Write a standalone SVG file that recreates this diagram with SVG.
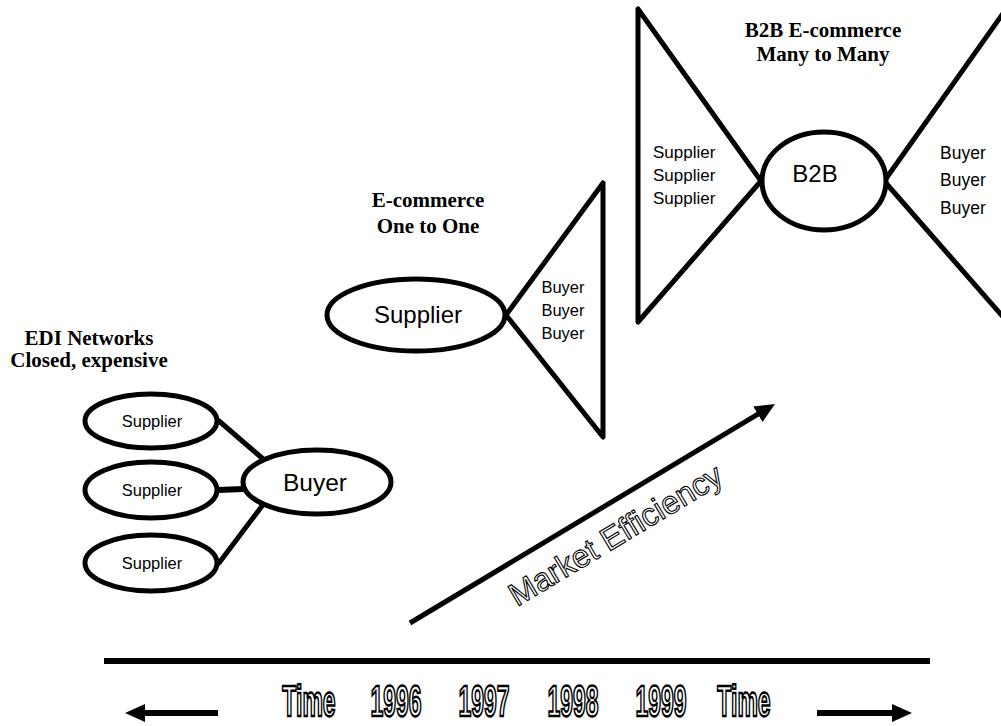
<svg xmlns="http://www.w3.org/2000/svg" width="1001" height="726" viewBox="0 0 1001 726">
  <defs>
    <style>
      .shape { fill: #fff; stroke: #000; stroke-width: 5; }
      .edge { fill: none; stroke: #000; stroke-width: 5; stroke-linecap: round; stroke-linejoin: round; }
      .label { font-family: "Liberation Sans", Arial, sans-serif; fill: #000; }
      .title { font-family: "Liberation Serif", "Times New Roman", serif; font-weight: bold; font-size: 21px; fill: #000; text-anchor: middle; }
      .hollow { font-family: "Liberation Sans", Arial, sans-serif; fill: #fff; stroke: #000; text-rendering: geometricPrecision; }
      .year text { font-weight: bold; font-size: 23px; text-anchor: middle; stroke-width: 1.3; vector-effect: non-scaling-stroke; }
    </style>
    <marker id="head" viewBox="0 0 20 18" refX="4" refY="9" markerWidth="20" markerHeight="18" markerUnits="userSpaceOnUse" orient="auto">
      <path d="M0,0 L20,9 L0,18 z" fill="#000"/>
    </marker>
  </defs>
  <rect width="1001" height="726" fill="#fff"/>

  <!-- connectors -->
  <g id="connectors" class="edge">
    <!-- EDI: suppliers to buyer -->
    <line x1="219" y1="421" x2="262" y2="458"/>
    <line x1="218" y1="490" x2="243" y2="489" stroke-width="6"/>
    <line x1="219" y1="563" x2="262" y2="506"/>
    <!-- E-commerce fan -->
    <polyline points="603,183 506,315 603,437 603,183"/>
    <!-- B2B left fan -->
    <polyline points="638,9 761,181 638,322 638,9"/>
    <!-- B2B right fan -->
    <line x1="885" y1="180" x2="1004" y2="12"/>
    <line x1="885" y1="182" x2="1004" y2="318"/>
    <!-- market efficiency arrow -->
    <line x1="410" y1="623" x2="761.3" y2="412.2" stroke-width="5" stroke-linecap="butt" marker-end="url(#head)"/>
    <!-- timeline -->
    <line x1="104" y1="661" x2="930" y2="661" stroke-width="6" stroke-linecap="butt"/>
    <line x1="218" y1="713" x2="141" y2="713" stroke-width="6" stroke-linecap="butt" marker-end="url(#head)"/>
    <line x1="817" y1="713" x2="896" y2="713" stroke-width="6" stroke-linecap="butt" marker-end="url(#head)"/>
  </g>

  <!-- EDI networks -->
  <g id="edi-title">
    <text class="title" x="89" y="345">EDI Networks</text>
    <text class="title" x="89" y="367">Closed, expensive</text>
  </g>
  <g id="edi-supplier-1">
    <ellipse class="shape" cx="151" cy="421" rx="66" ry="27"/>
    <text class="label" x="152" y="427" font-size="16.5" text-anchor="middle">Supplier</text>
  </g>
  <g id="edi-supplier-2">
    <ellipse class="shape" cx="151" cy="490" rx="66" ry="28"/>
    <text class="label" x="152" y="496" font-size="16.5" text-anchor="middle">Supplier</text>
  </g>
  <g id="edi-supplier-3">
    <ellipse class="shape" cx="151" cy="563" rx="66" ry="28"/>
    <text class="label" x="152" y="569" font-size="16.5" text-anchor="middle">Supplier</text>
  </g>
  <g id="edi-buyer">
    <ellipse class="shape" cx="317" cy="482" rx="74" ry="32"/>
    <text class="label" x="315" y="491" font-size="24.5" text-anchor="middle">Buyer</text>
  </g>

  <!-- E-commerce one to one -->
  <g id="ecom-title">
    <text class="title" x="428" y="207">E-commerce</text>
    <text class="title" x="428" y="233">One to One</text>
  </g>
  <g id="ecom-supplier">
    <ellipse class="shape" cx="416" cy="315" rx="89" ry="36"/>
    <text class="label" x="418" y="323" font-size="24" text-anchor="middle">Supplier</text>
  </g>
  <g id="ecom-buyers" class="label" font-size="16.5" text-anchor="middle">
    <text x="563" y="293">Buyer</text>
    <text x="563" y="316">Buyer</text>
    <text x="563" y="339">Buyer</text>
  </g>

  <!-- B2B many to many -->
  <g id="b2b-title">
    <text class="title" x="823" y="37">B2B E-commerce</text>
    <text class="title" x="823" y="61">Many to Many</text>
  </g>
  <g id="b2b-suppliers" class="label" font-size="17">
    <text x="653" y="158">Supplier</text>
    <text x="653" y="181">Supplier</text>
    <text x="653" y="204">Supplier</text>
  </g>
  <g id="b2b-hub">
    <ellipse class="shape" cx="824" cy="181" rx="62" ry="49"/>
    <text class="label" x="815" y="182" font-size="24" text-anchor="middle">B2B</text>
  </g>
  <g id="b2b-buyers" class="label" font-size="17.5">
    <text x="940" y="159">Buyer</text>
    <text x="940" y="186">Buyer</text>
    <text x="940" y="214">Buyer</text>
  </g>

  <!-- market efficiency label -->
  <g id="market-label">
    <text class="hollow" x="0" y="0" font-size="32" stroke-width="1.1" transform="translate(517,607) rotate(-31)">Market Efficiency</text>
  </g>

  <!-- time axis labels -->
  <g id="time-axis" class="hollow year">
    <text transform="translate(309,716) scale(1,1.9)">Time</text>
    <text transform="translate(396,716) scale(1,1.9)">1996</text>
    <text transform="translate(484,716) scale(1,1.9)">1997</text>
    <text transform="translate(573,716) scale(1,1.9)">1998</text>
    <text transform="translate(661,716) scale(1,1.9)">1999</text>
    <text transform="translate(744,716) scale(1,1.9)">Time</text>
  </g>
</svg>
